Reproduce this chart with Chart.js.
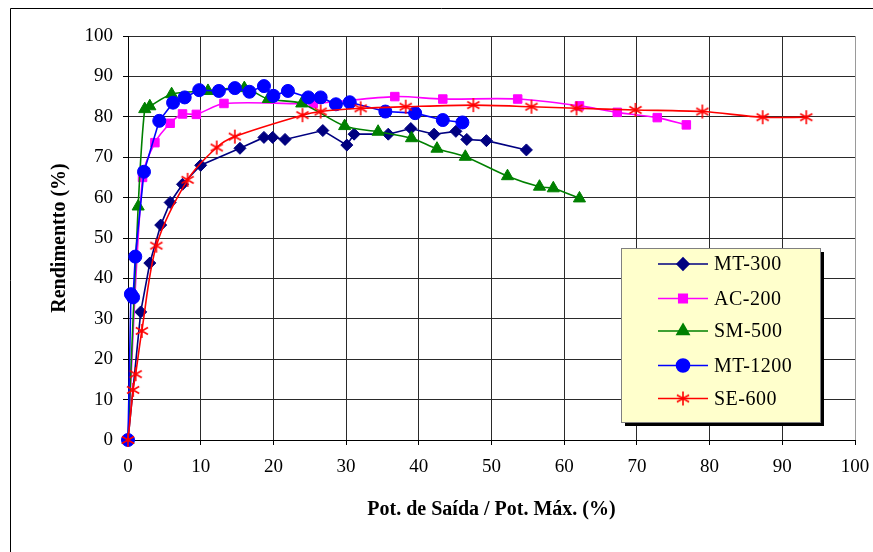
<!DOCTYPE html>
<html>
<head>
<meta charset="utf-8">
<script src="https://cdn.jsdelivr.net/npm/chart.js@4/dist/chart.umd.min.js"></script>
<style>
  html, body { margin: 0; padding: 0; background: #fff; }
  canvas { display: block; }
</style>
</head>
<body>
<canvas id="chart" width="873" height="552"></canvas>
<script>
// series data
const mt300X = [0, 1.75, 3.0, 4.5, 5.8, 7.5, 10, 15.4, 18.7, 19.9, 21.6, 26.8, 30.1, 31.1, 35.8, 38.9, 42.1, 45.1, 46.6, 49.3, 54.8];
const mt300Y = [0, 31.7, 43.8, 53.2, 58.8, 63.3, 68, 72.2, 74.9, 74.9, 74.4, 76.6, 73.0, 75.7, 75.7, 77.1, 75.7, 76.4, 74.4, 74.1, 71.8];

const ac200X = [0, 2.0, 3.7, 5.8, 7.5, 9.4, 13.2, 25.5, 36.7, 43.3, 53.6, 62.1, 67.3, 72.8, 76.8];
const ac200Y = [0, 65, 73.6, 78.4, 80.7, 80.6, 83.3, 83.3, 85.0, 84.4, 84.4, 82.7, 81.1, 79.8, 78.0];

const sm500X = [0, 1.4, 2.3, 3.0, 6.0, 11, 16, 19.3, 23.9, 29.8, 34.4, 39, 42.5, 46.4, 52.2, 56.6, 58.5, 62.1];
const sm500Y = [0, 57.8, 81.9, 82.6, 85.6, 86.4, 87.1, 84.4, 83.3, 77.7, 76.3, 74.7, 72.1, 70.1, 65.3, 62.7, 62.3, 59.8];

const mt1200X = [0, 0.4, 0.7, 1.0, 2.2, 4.3, 6.2, 7.8, 9.8, 12.5, 14.7, 16.7, 18.7, 20, 22, 24.8, 26.5, 28.6, 30.5, 35.4, 39.5, 43.3, 46.0];
const mt1200Y = [0, 36.1, 35.3, 45.4, 66.4, 79, 83.5, 84.8, 86.6, 86.4, 87.1, 86.2, 87.6, 85.2, 86.4, 84.8, 84.8, 83.1, 83.6, 81.3, 80.9, 79.2, 78.6];

const se600X = [0, 0.7, 1.05, 1.9, 3.9, 8.2, 12.2, 14.7, 24.0, 26.5, 32, 38.2, 47.5, 55.5, 61.7, 69.8, 79, 87.3, 93.3];
const se600Y = [0, 12.4, 16.3, 27, 48.1, 64.4, 72.4, 75.1, 80.4, 81.3, 82.1, 82.5, 82.9, 82.5, 82.1, 81.7, 81.3, 79.9, 79.9];

const seriesNames = ['MT-300', 'AC-200', 'SM-500', 'MT-1200', 'SE-600'];
const xTicks = [0, 10, 20, 30, 40, 50, 60, 70, 80, 90, 100];
const yTicks = [0, 10, 20, 30, 40, 50, 60, 70, 80, 90, 100];

const serif = '"Liberation Serif", "DejaVu Serif", serif';

function pts(xs, ys) {
  return xs.map((x, i) => ({ x: x, y: ys[i] }));
}

// excel style asterisk (vertical bar + X)
function makeStar(size, color) {
  const c = document.createElement('canvas');
  c.width = size; c.height = size;
  const g = c.getContext('2d');
  const m = size / 2, r = size / 2 - 1;
  g.strokeStyle = color;
  g.lineWidth = 1.6;
  g.beginPath();
  g.moveTo(m, m - r); g.lineTo(m, m + r);
  const d = r * 0.87;
  g.moveTo(m - d, m - r * 0.5); g.lineTo(m + d, m + r * 0.5);
  g.moveTo(m - d, m + r * 0.5); g.lineTo(m + d, m - r * 0.5);
  g.stroke();
  return c;
}
const starImg = makeStar(16, '#FF0000');

const datasets = [
  { label: seriesNames[0], data: pts(mt300X, mt300Y), borderColor: '#000080', backgroundColor: '#000080',
    pointStyle: 'rectRot', pointRadius: 6, tension: 0, order: 4 },
  { label: seriesNames[1], data: pts(ac200X, ac200Y), borderColor: '#FF00FF', backgroundColor: '#FF00FF',
    pointStyle: 'rect', pointRadius: 6, tension: 0.3, order: 3 },
  { label: seriesNames[2], data: pts(sm500X, sm500Y), borderColor: '#008000', backgroundColor: '#008000',
    pointStyle: 'triangle', pointRadius: 7, tension: 0.3, order: 2 },
  { label: seriesNames[3], data: pts(mt1200X, mt1200Y), borderColor: '#0000FF', backgroundColor: '#0000FF',
    pointStyle: 'circle', pointRadius: 6.5, tension: 0, order: 1 },
  { label: seriesNames[4], data: pts(se600X, se600Y), borderColor: '#FF0000', backgroundColor: '#FF0000',
    pointStyle: starImg, pointRadius: 8, tension: 0.3, order: 0 }
];
datasets.forEach(d => { d.borderWidth = 1.6; d.pointBorderWidth = 1; d.fill = false; d.clip = false; });

// frame around the whole figure + legend box
const decor = {
  id: 'decor',
  beforeDraw(chart) {
    const ctx = chart.ctx;
    ctx.save();
    ctx.fillStyle = '#fff';
    ctx.fillRect(0, 0, chart.width, chart.height);
    ctx.strokeStyle = '#000';
    ctx.lineWidth = 1;
    ctx.beginPath();
    ctx.moveTo(10.5, chart.height);
    ctx.lineTo(10.5, 8.5);
    ctx.lineTo(chart.width, 8.5);
    ctx.stroke();
    ctx.restore();
  },
  afterDraw(chart) {
    const ctx = chart.ctx;
    const bx = 621, by = 248, bw = 199, bh = 174;
    ctx.save();
    ctx.fillStyle = '#000';
    ctx.fillRect(bx + 4, by + 4, bw, bh);
    ctx.fillStyle = '#FFFFCC';
    ctx.fillRect(bx, by, bw, bh);
    ctx.strokeStyle = '#808080';
    ctx.lineWidth = 1;
    ctx.strokeRect(bx + 0.5, by + 0.5, bw, bh);
    const rows = [264, 298.5, 331, 365.5, 398.5];
    ctx.font = '20px ' + serif;
    ctx.letterSpacing = '0.5px';
    ctx.textBaseline = 'middle';
    chart.data.datasets.forEach((ds, i) => {
      const y = rows[i];
      ctx.strokeStyle = ds.borderColor;
      ctx.lineWidth = 1.6;
      ctx.beginPath();
      ctx.moveTo(658, y); ctx.lineTo(708, y);
      ctx.stroke();
      ctx.fillStyle = ds.backgroundColor;
      Chart.helpers.drawPoint(ctx, { pointStyle: ds.pointStyle, radius: ds.pointRadius, rotation: 0, borderWidth: 1 }, 683, y);
      ctx.fillStyle = '#000';
      ctx.fillText(ds.label, 714, y + 1);
    });
    ctx.restore();
  }
};

new Chart(document.getElementById('chart'), {
  type: 'line',
  data: { datasets: datasets },
  plugins: [decor],
  options: {
    responsive: false,
    animation: false,
    layout: { padding: { left: 48, right: 18, top: 36, bottom: 26 } },
    plugins: { legend: { display: false }, tooltip: { enabled: false } },
    scales: {
      x: {
        type: 'linear', min: 0, max: 100,
        afterBuildTicks: s => { s.ticks = xTicks.map(v => ({ value: v })); },
        afterFit: s => { s.height = 86; s.paddingLeft = 0; s.paddingRight = 0; },
        grid: { color: ctx => ctx.tick && ctx.tick.value === 100 ? '#9a9a9a' : '#2a2a2a', tickLength: 5, tickColor: '#000' },
        border: { color: '#000', width: 1 },
        ticks: { color: '#000', font: { family: serif, size: 19 }, padding: 11, maxRotation: 0 },
        title: { display: true, text: 'Pot. de Saída / Pot. Máx. (%)', color: '#000',
                 font: { family: serif, size: 20, weight: 'bold' }, padding: { top: 8 } }
      },
      y: {
        type: 'linear', min: 0, max: 100,
        afterBuildTicks: s => { s.ticks = yTicks.map(v => ({ value: v })); },
        afterFit: s => { s.width = 80; s.paddingTop = 0; s.paddingBottom = 0; },
        grid: { color: '#2a2a2a', tickLength: 5, tickColor: '#000' },
        border: { color: '#000', width: 1 },
        ticks: { color: '#000', font: { family: serif, size: 19 }, padding: 10 },
        title: { display: true, text: 'Rendimentto (%)', color: '#000',
                 font: { family: serif, size: 20, weight: 'bold' }, padding: 0 }
      }
    }
  }
});
</script>
</body>
</html>
